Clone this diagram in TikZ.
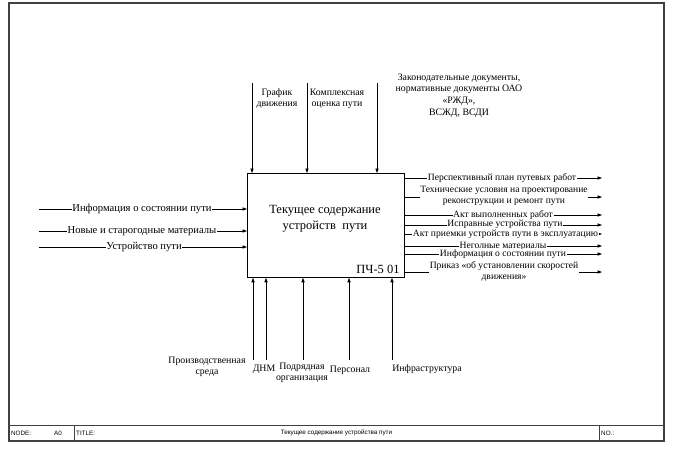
\documentclass[tikz,border=0pt]{standalone}
\usepackage{fontspec}
\setmainfont{Liberation Serif}
\newfontfamily\framefont{Liberation Sans}
\usetikzlibrary{arrows.meta}
\begin{document}
\begin{tikzpicture}[x=1pt,y=-1pt,
  conn/.style={line width=0.75pt,-{Triangle[length=4.5pt,width=3.2pt]}},
  lbl/.style={font=\fontsize{9.6}{11.2}\selectfont,align=center,inner sep=0.6pt,fill=white},
  lbll/.style={lbl,font=\fontsize{10.6}{12}\selectfont},
  plain/.style={font=\fontsize{9.8}{11}\selectfont,align=center,inner sep=0pt},
  frametxt/.style={font=\framefont\fontsize{6.3}{7}\selectfont,inner sep=0pt},
  actbox/.style={draw,line width=0.8pt,inner sep=0pt,minimum width=157pt,minimum height=104pt,anchor=north west}]
\useasboundingbox (0,0) rectangle (674,451);
\fill[white] (0,0) rectangle (674,451);
% frame
\draw[line width=1.2pt,black!75] (9,3) rectangle (664,441);
\draw[line width=1pt,black!75] (9,425) -- (664,425) (74,425) -- (74,441) (599,425) -- (599,441);
\node[frametxt,anchor=west] (fnode) at (11,433) {NODE:};
\node[frametxt] (fa0) at (58,433) {A0};
\node[frametxt,anchor=west] (ftitle) at (76,433) {TITLE:};
\node[frametxt] (ftxt) at (336.5,433) {Текущее содержание устройства пути};
\node[frametxt,anchor=west] (fno) at (601,433) {NO.:};
% activity box
\node[actbox] (box) at (247,173) {};
\node[font=\fontsize{12.5}{16}\selectfont,align=center] (boxt) at (325,219) {Текущее содержание\\устройств\ \ пути};
\node[font=\fontsize{12.5}{14}\selectfont,inner sep=0pt] (boxn) at (378,269) {ПЧ-5 01};
% controls (top)
\coordinate (t1) at (252,83);
\coordinate (t2) at (307,83);
\coordinate (t3) at (377,83);
\draw[conn] (t1) -- (t1 |- box.north);
\draw[conn] (t2) -- (t2 |- box.north);
\draw[conn] (t3) -- (t3 |- box.north);
\node[plain] (tl1) at (277,98.5) {График\\движения};
\node[plain] (tl2) at (337,98.5) {Комплексная\\оценка пути};
\node[plain,font=\fontsize{9.8}{11.6}\selectfont] (tl3) at (459,95.5) {Законодательные документы,\\нормативные документы ОАО\\«РЖД»,\\ВСЖД, ВСДИ};
% inputs (left)
\coordinate (i1) at (39,209);
\coordinate (i2) at (39,231);
\coordinate (i3) at (39,247);
\draw[conn] (i1) -- (i1 -| box.west);
\draw[conn] (i2) -- (i2 -| box.west);
\draw[conn] (i3) -- (i3 -| box.west);
\node[lbll] (il1) at (142,209) {Информация о состоянии пути};
\node[lbll] (il2) at (142,231) {Новые и старогодные материалы};
\node[lbll] (il3) at (144,247) {Устройство пути};
% outputs (right)
\coordinate (o1) at (602,178);
\coordinate (o2) at (602,197);
\coordinate (o3) at (602,215);
\coordinate (o4) at (602,225);
\coordinate (o5) at (602,234);
\coordinate (o6) at (602,246);
\coordinate (o7) at (602,254);
\coordinate (o8) at (602,272);
\foreach \o in {o1,o2,o3,o4,o5,o6,o7,o8}{\draw[conn] (\o -| box.east) -- (\o);}
\node[lbl] (ol1) at (502,178) {Перспективный план путевых работ};
\node[lbl] (ol2) at (504,196) {Технические условия на проектирование\\реконструкции и ремонт пути};
\node[lbl] (ol3) at (503,215) {Акт выполненных работ};
\node[lbl] (ol4) at (505,224.5) {Исправные устройства пути};
\node[lbl] (ol5) at (505.5,234) {Акт приемки устройств пути в эксплуатацию};
\node[lbl] (ol6) at (503,246) {Неголные материалы};
\node[lbl] (ol7) at (503,254) {Информация о состоянии пути};
\node[lbl] (ol8) at (504,271.5) {Приказ «об установлении скоростей\\движения»};
% mechanisms (bottom)
\coordinate (b1) at (253,360);
\coordinate (b2) at (266,360);
\coordinate (b3) at (303,360);
\coordinate (b4) at (349,360);
\coordinate (b5) at (392,360);
\foreach \b in {b1,b2,b3,b4,b5}{\draw[conn] (\b) -- (\b |- box.south);}
\node[plain] (bl1) at (207,366.5) {Производственная\\среда};
\node[plain] (bl2) at (264,369) {ДНМ};
\node[plain] (bl3) at (302,372.5) {Подрядная\\организация};
\node[plain] (bl4) at (350,370) {Персонал};
\node[plain] (bl5) at (427,369) {Инфраструктура};
\end{tikzpicture}
\end{document}
